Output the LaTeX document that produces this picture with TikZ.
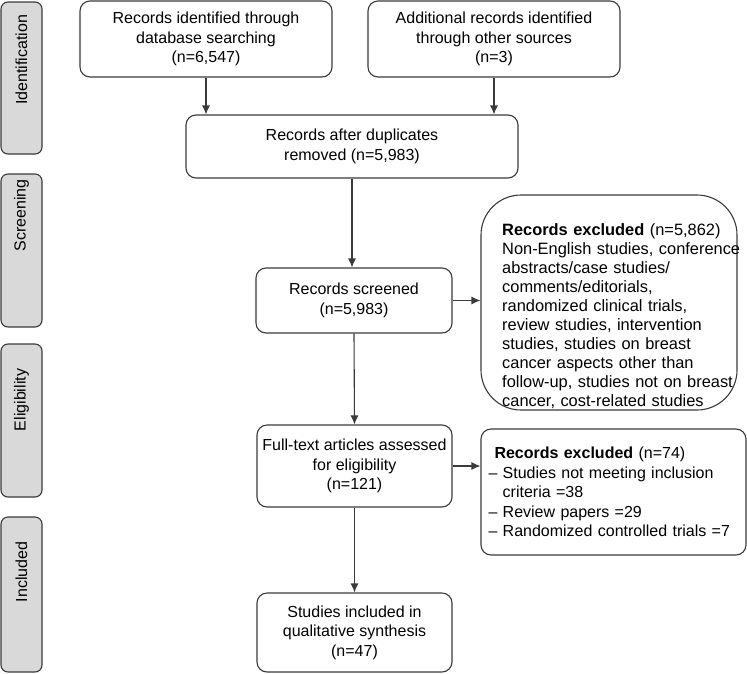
\documentclass[tikz,border=0pt]{standalone}
\usepackage{fontspec}
\setmainfont{Liberation Sans}
\usetikzlibrary{arrows,arrows.meta,positioning}
\definecolor{edgegray}{HTML}{3A3A3A}
\definecolor{phasegray}{HTML}{D9D9D9}
\tikzset{
  flowbox/.style={draw=edgegray,line width=1.1pt,rounded corners=10pt,align=center,inner sep=0pt,font=\fontsize{16}{19.5}\selectfont},
  exclbox/.style={draw=edgegray,line width=1.1pt,rounded corners=40pt,inner sep=0pt},
  note/.style={align=left,inner sep=0pt,font=\fontsize{16.4}{19}\selectfont},
  phase/.style={draw=edgegray,fill=phasegray,line width=1.1pt,rounded corners=7pt,rotate=90,minimum height=41pt,inner sep=0pt,font=\fontsize{16}{18}\selectfont},
  flow/.style={-{Latex[length=9pt,width=8pt]},draw=edgegray,line width=1.1pt}
}

\begin{document}
\begin{tikzpicture}[x=1pt,y=-1pt]
\useasboundingbox (0,0) rectangle (747,673);
% phases
\node (ph1) [phase,minimum width=152pt] at (21.5,78) {\hspace*{36pt}Identification};
\node (ph2) [phase,minimum width=153pt] at (21.5,250.5) {\hspace*{70pt}Screening};
\node (ph3) [phase,minimum width=153pt] at (21.5,420.5) {\hspace*{41pt}Eligibility};
\node (ph4) [phase,minimum width=155pt] at (21.5,594.5) {\hspace*{45pt}Included};
%
\node (ident1) [flowbox,minimum width=252pt,minimum height=76pt] at (206,39) {Records identified through\\database searching\\(n=6,547)};
\node (ident2) [flowbox,minimum width=252pt,minimum height=76pt] at (494,39) {Additional records identified\\through other sources\\(n=3)};
\node (dupl) [flowbox,minimum width=332pt,minimum height=63pt] at (352,146.5) {Records after duplicates\\removed (n=5,983)};
\node (screen) [flowbox,minimum width=196pt,minimum height=65pt] at (354,300.5) {Records screened\\(n=5,983)};
\node (scrx) [exclbox,minimum width=256pt,minimum height=215pt] at (609,302.5) {};
\node (scrxtext) [note,text width=240pt,anchor=base west] at (502,235) {\textbf{Records excluded} (n=5,862)\\Non-English studies, conference\\abstracts/case studies/\\comments/editorials,\\randomized clinical trials,\\review studies, intervention\\studies, studies on breast\\cancer aspects other than\\follow-up, studies not on breast\\cancer, cost-related studies};
\node (full) [flowbox,minimum width=195pt,minimum height=82pt] at (354.5,466) {Full-text articles assessed\\for eligibility\\(n=121)};
\node (fullx) [flowbox,minimum width=265pt,minimum height=126pt,align=left,text width=250pt] at (613.5,492) {\hspace*{6pt}\textbf{Records excluded} (n=74)\\
– Studies not meeting inclusion\\\phantom{– }criteria =38\\
– Review papers =29\\
– Randomized controlled trials =7};
\node (incl) [flowbox,minimum width=195pt,minimum height=79pt] at (354.5,632.5) {Studies included in\\qualitative synthesis\\(n=47)};
%
\draw[flow] (ident1.south) -- (ident1.south |- dupl.north);
\draw[flow] (ident2.south) -- (ident2.south |- dupl.north);
\draw[flow] (dupl.south) -- (dupl.south |- screen.north);
\draw[flow] (screen.east) -- (screen.east -| scrx.west);
\draw[flow] (screen.south) -- (full.north);
\draw[flow] (full.east) -- (full.east -| fullx.west);
\draw[flow] (full.south) -- (incl.north);
\end{tikzpicture}
\end{document}
